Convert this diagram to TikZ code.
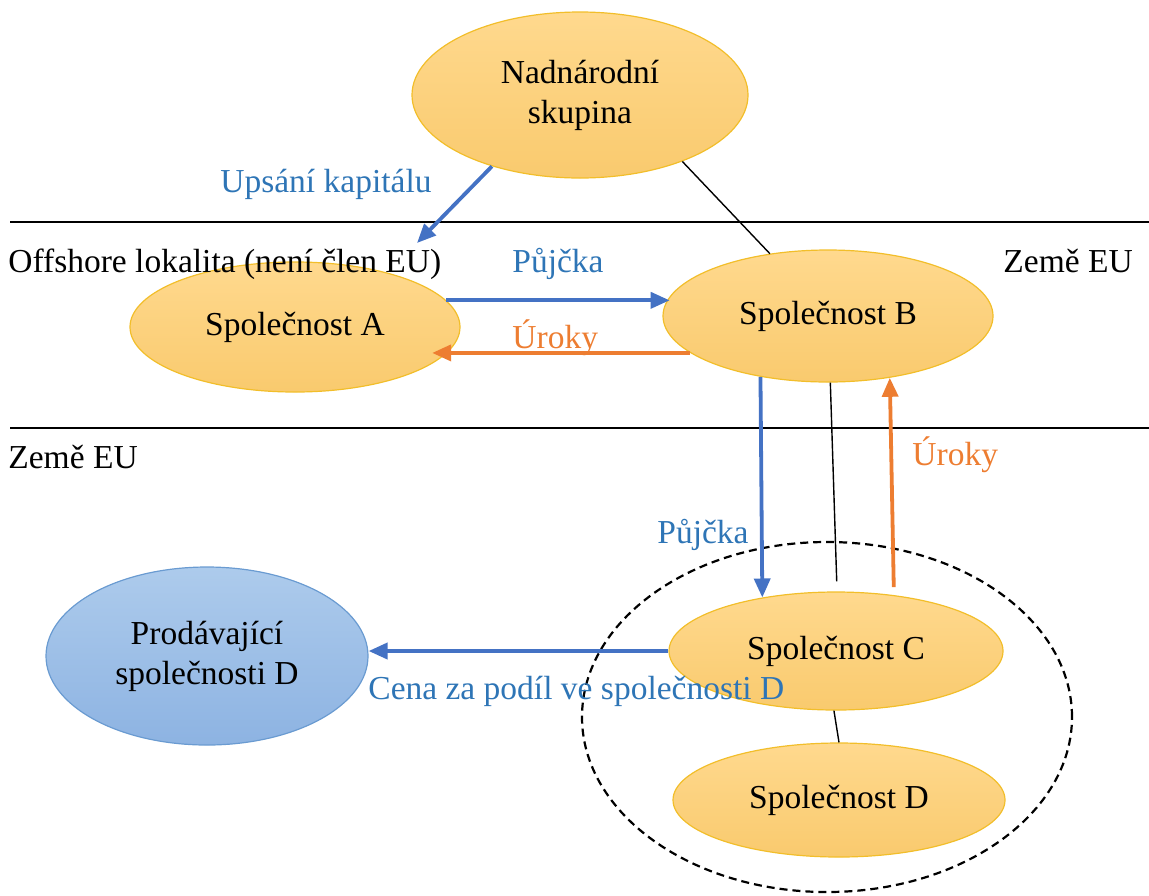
\documentclass[tikz,border=0pt]{standalone}
\usepackage{fontspec}
\setmainfont{Liberation Serif}
\usetikzlibrary{shapes.geometric,arrows.meta,calc}
\definecolor{txtblue}{HTML}{2E75B6}
\definecolor{txtorange}{HTML}{ED7D31}
\definecolor{arrblue}{HTML}{4472C4}
\definecolor{arrorange}{HTML}{ED7D31}
\definecolor{goldtop}{HTML}{FFD98E}
\definecolor{goldbot}{HTML}{F9CA6E}
\definecolor{goldline}{HTML}{F2BE2A}
\definecolor{bluetop}{HTML}{ADCBEC}
\definecolor{bluebot}{HTML}{8DB3E2}
\definecolor{blueline}{HTML}{6A9BD1}
\begin{document}
\begin{tikzpicture}[x=0.5pt,y=-0.5pt,
  font=\fontsize{16.75}{20}\selectfont,
  goldell/.style={ellipse, draw=goldline, line width=0.6pt, top color=goldtop, bottom color=goldbot, inner sep=0pt, align=center},
  blueell/.style={ellipse, draw=blueline, line width=0.6pt, top color=bluetop, bottom color=bluebot, inner sep=0pt, align=center},
  grpell/.style={ellipse, draw=black, line width=1.1pt, dash pattern=on 4pt off 2.5pt, inner sep=0pt},
  lbl/.style={inner sep=0pt, anchor=base west},
  bluearr/.style={draw=arrblue, line width=1.9pt, -{Triangle[length=9.5pt,width=8pt]}},
  orangearr/.style={draw=arrorange, line width=1.9pt, -{Triangle[length=9.5pt,width=8pt]}},
  thinln/.style={draw=black, line width=0.7pt},
  sepln/.style={draw=black, line width=0.8pt}
]
\useasboundingbox (0,0) rectangle (1149,895);

% separator lines
\coordinate (l1a) at (10,222);
\coordinate (l1b) at (1149,222);
\coordinate (l2a) at (10,428);
\coordinate (l2b) at (1149,428);
\draw[sepln] (l1a) -- (l1b);
\draw[sepln] (l2a) -- (l2b);

% group ellipse
\node[grpell, minimum width=245pt, minimum height=175pt] (grp) at (827,717) {};

% nodes
\node[goldell, minimum width=168pt, minimum height=83pt] (N) at (580,95)
  {\baselineskip=20pt Nadnárodní\\skupina};
\node[goldell, minimum width=165pt, minimum height=65pt] (A) at (295,327) {Společnost A};
\node[goldell, minimum width=165pt, minimum height=66pt] (B) at (828,316) {Společnost B};
\node[goldell, minimum width=167pt, minimum height=59pt] (C) at (836,651) {Společnost C};
\node[goldell, minimum width=166pt, minimum height=57pt] (D) at (839,800) {Společnost D};
\node[blueell, minimum width=161pt, minimum height=89pt] (P) at (207,656)
  {\baselineskip=19.5pt Prodávající\\společnosti D};

% labels
\node[lbl, text=txtblue] (upk) at (220,192) {Upsání kapitálu};
\node[lbl] (off) at (8,272) {Offshore lokalita (není člen EU)};
\node[lbl, text=txtblue] (pj1) at (512,272) {Půjčka};
\node[lbl] (eu1) at (1003,272) {Země EU};
\node[lbl, text=txtorange] (ur1) at (512,348) {Úroky};
\node[lbl] (eu2) at (8,468) {Země EU};
\node[lbl, text=txtorange] (ur2) at (912,465) {Úroky};
\node[lbl, text=txtblue] (pj2) at (657,543) {Půjčka};
\node[lbl, text=txtblue] (cena) at (368,699) {Cena za podíl ve společnosti D};

% connectors
\coordinate (capT) at (417,243);
\draw[bluearr] (N.219) -- (capT);
\draw[thinln] (N.327.5) -- (B.133);
\draw[bluearr] (A.10) -- (A.10 -| B.173);
\draw[orangearr] (B.195.7) -- (B.195.7 -| A.345);
\draw[bluearr] (B.222.5) -- (C.144.4);
\draw[thinln, shorten >=5pt] (B.272) -- (C.89.5);
\draw[orangearr, shorten <=4pt] (C.44.2) -- (B.315.4);
\draw[thinln] (C.268) -- (D.90);
\draw[bluearr] (C.west) -- (C.west -| P.east);
\end{tikzpicture}
\end{document}
